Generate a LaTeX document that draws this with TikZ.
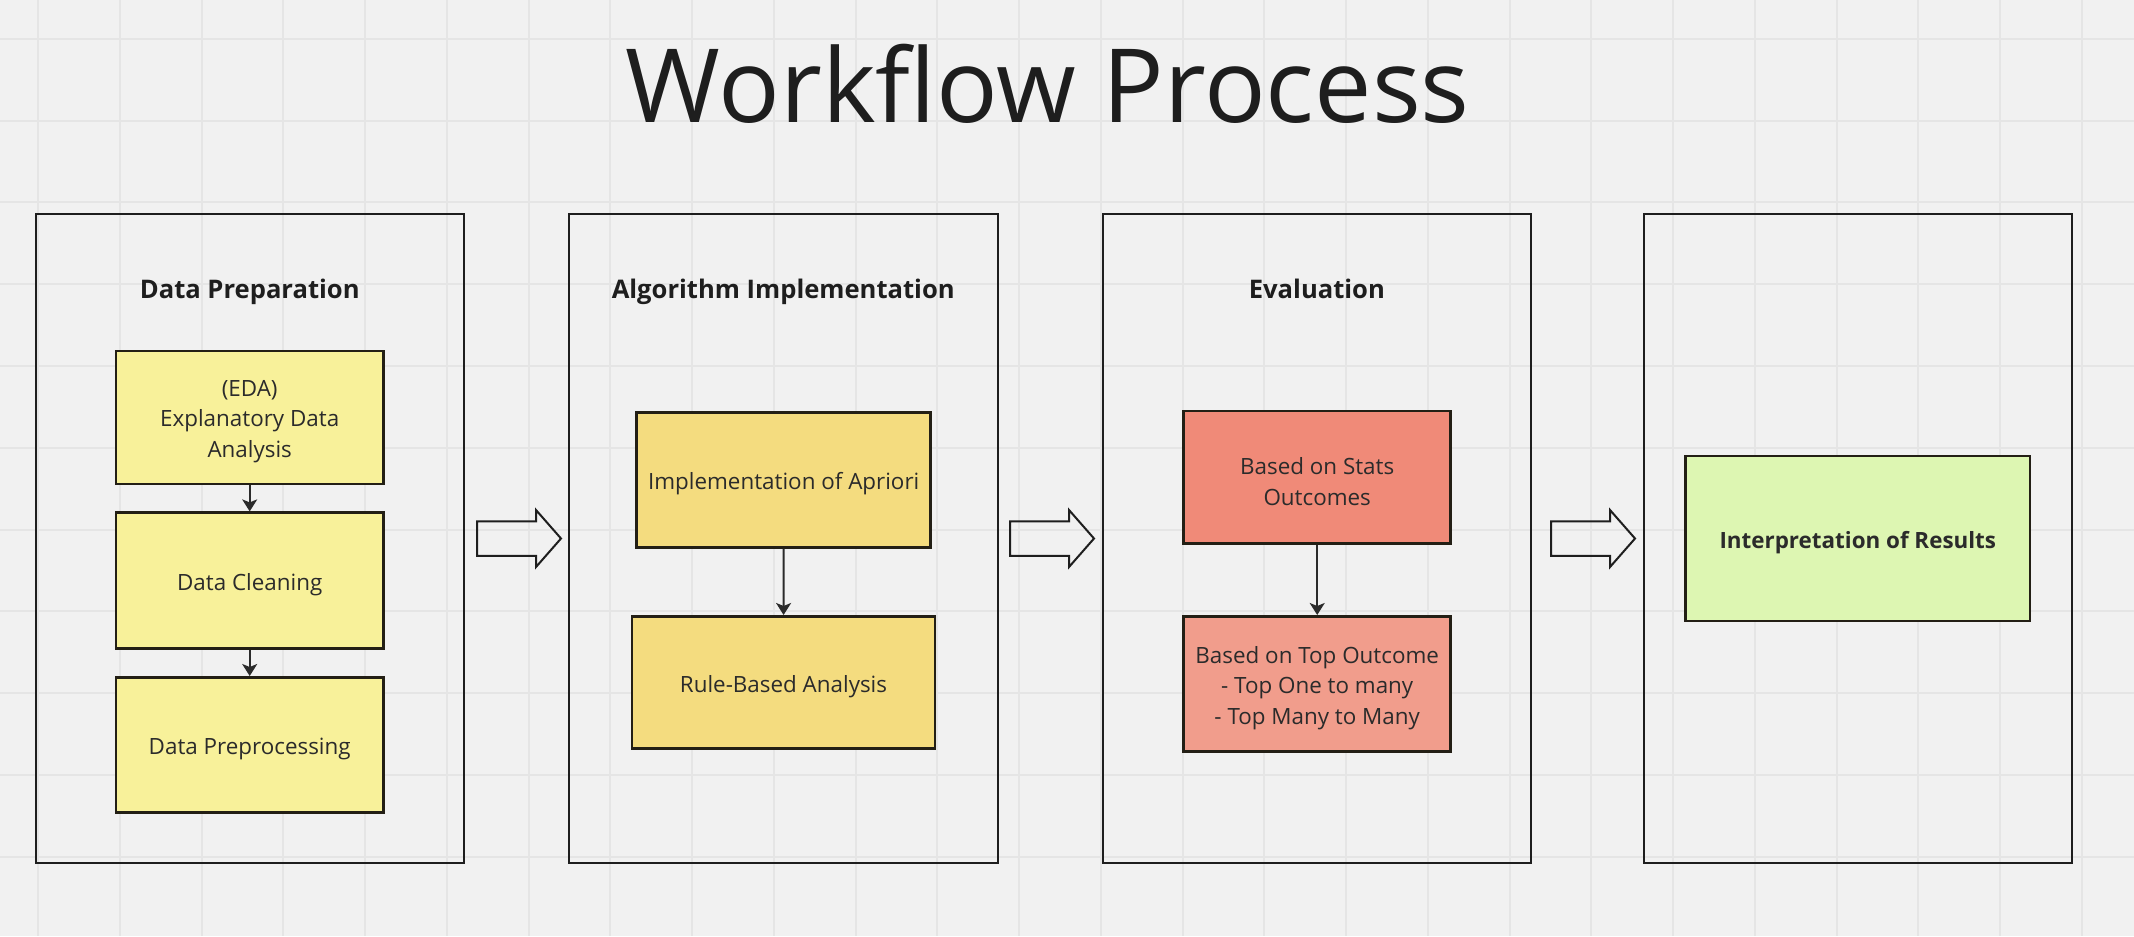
\documentclass[tikz,border=0pt]{standalone}
\usepackage{fontspec}
\setmainfont{Open Sans}
\usetikzlibrary{arrows.meta}
\definecolor{bg}{HTML}{F1F1F1}
\definecolor{gridc}{HTML}{E5E5E5}
\definecolor{lineC}{HTML}{1E1E1E}
\definecolor{boxline}{HTML}{231F15}
\definecolor{txt}{HTML}{2B2B2B}
\definecolor{yel}{HTML}{F8F19A}
\definecolor{gold}{HTML}{F4DC7F}
\definecolor{salmon}{HTML}{F08A78}
\definecolor{pinkish}{HTML}{F19D8C}
\definecolor{lime}{HTML}{DDF6B2}
\tikzset{
  frame/.style={draw=lineC, line width=1pt, minimum width=214.25pt, minimum height=324.5pt, inner sep=0pt},
  head/.style={anchor=base, text=lineC, font=\bfseries\fontsize{12.8}{16}\selectfont},
  box/.style={draw=boxline, line width=1.3pt, inner sep=0pt},
  boxtext/.style={align=center, text=txt, inner sep=0pt, yshift=-2pt,
    font=\fontsize{11.2}{15.3}\selectfont},
  link/.style={draw=txt, line width=1pt, -{Stealth[length=6pt,width=7.5pt,inset=1.5pt]}},
  blockarr/.pic={\draw[draw=lineC, line width=1pt, line join=miter]
    (0,-17.25) -- (59,-17.25) -- (59,-28.5) -- (84,0) -- (59,28.5) -- (59,17.25) -- (0,17.25) -- cycle;}
}
\begin{document}
\begin{tikzpicture}[x=0.5pt,y=-0.5pt]
\useasboundingbox (0,0) rectangle (2134,936);
\fill[bg] (0,0) rectangle (2134,936);
\foreach \i in {0,...,25} \draw[gridc, line width=1pt] ({38+81.75*\i},0) -- ({38+81.75*\i},936);
\foreach \j in {0,...,10} \draw[gridc, line width=1pt] (0,{39+81.75*\j}) -- (2134,{39+81.75*\j});

\node[anchor=base, text=lineC, font=\fontsize{51.2}{60}\selectfont] (title) at (1047.75,122.7) {Workflow Process};

% frames
\node[frame] (f1) at (249.75,538.5) {};
\node[frame] (f2) at (783.25,538.5) {};
\node[frame] (f3) at (1316.85,538.5) {};
\node[frame] (f4) at (1857.85,538.5) {};

\node[head] (h1) at (249.75,298.3) {Data Preparation};
\node[head] (h2) at (783.25,298.3) {Algorithm Implementation};
\node[head] (h3) at (1316.85,298.3) {Evaluation};

% data preparation
\node[box, fill=yel, minimum width=133.65pt, minimum height=66.5pt] (eda) at (249.7,417.5) {};
\node[boxtext] (edat) at (eda.center) {(EDA)\\Explanatory Data\\Analysis};
\node[box, fill=yel, minimum width=133.65pt, minimum height=67.8pt] (clean) at (249.7,580.5) {};
\node[boxtext] (cleant) at (clean.center) {Data Cleaning};
\node[box, fill=yel, minimum width=133.65pt, minimum height=67.7pt] (prep) at (249.7,745) {};
\node[boxtext] (prept) at (prep.center) {Data Preprocessing};
\draw[link] (eda) -- (clean);
\draw[link] (clean) -- (prep);

% algorithm
\node[box, fill=gold, minimum width=147pt, minimum height=67.5pt] (apr) at (783.7,479.85) {};
\node[boxtext] (aprt) at (apr.center) {Implementation of Apriori};
\node[box, fill=gold, minimum width=151.5pt, minimum height=66.2pt] (rule) at (783.5,682.5) {};
\node[boxtext] (rulet) at (rule.center) {Rule-Based Analysis};
\draw[link] (apr) -- (rule);

% evaluation
\node[box, fill=salmon, minimum width=133.5pt, minimum height=66.35pt] (stats) at (1317.2,477.35) {};
\node[boxtext] (statst) at (stats.center) {Based on Stats\\Outcomes};
\node[box, fill=pinkish, minimum width=133.5pt, minimum height=67.7pt] (top) at (1317.2,684) {};
\node[boxtext] (topt) at (top.center) {Based on Top Outcome\\- Top One to many\\- Top Many to Many};
\draw[link] (stats) -- (top);

% interpretation
\node[box, fill=lime, minimum width=172.2pt, minimum height=82.5pt] (interp) at (1857.8,538.5) {};
\node[boxtext, font=\bfseries\fontsize{11.2}{14}\selectfont] (interpt) at (interp.center) {Interpretation of Results};

% block arrows
\pic at (477,538.5) {blockarr};
\pic at (1010,538.5) {blockarr};
\pic at (1551,538.5) {blockarr};
\end{tikzpicture}
\end{document}
